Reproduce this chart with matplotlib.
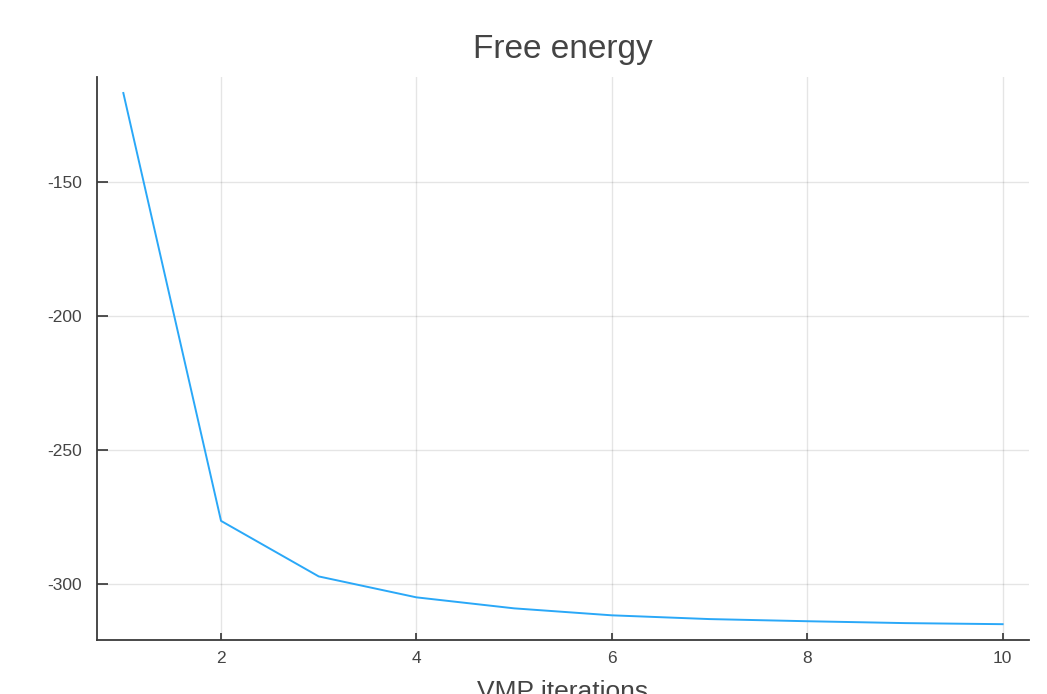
import matplotlib
matplotlib.use('Agg')
import matplotlib.pyplot as plt

plt.rcParams['font.family'] = ['Liberation Sans', 'DejaVu Sans']

# free energy per VMP iteration
iterations = [1, 2, 3, 4, 5, 6, 7, 8, 9, 10]
free_energy = [-116.9, -276.4, -297.1, -304.9, -309.0, -311.6, -313.0, -313.8, -314.5, -314.9]

xticks = [2, 4, 6, 8, 10]
yticks = [-300, -250, -200, -150]

fig = plt.figure(figsize=(10.47, 6.94), dpi=100)
ax = fig.add_axes([0.0926, 0.0778, 0.8902, 0.8112])

ax.plot(iterations, free_energy, color='#2AA8F8', linewidth=1.4)

ax.set_xlim(0.73, 10.27)
ax.set_ylim(-320.8, -110.95)
ax.set_xticks(xticks)
ax.set_yticks(yticks)
ax.set_xticklabels([str(t) for t in xticks])
ax.set_yticklabels([str(t) for t in yticks])

ax.grid(color='black', alpha=0.1, linewidth=1.0)
ax.set_axisbelow(True)

for side in ['top', 'right']:
    ax.spines[side].set_visible(False)
for side in ['left', 'bottom']:
    ax.spines[side].set_color('#3a3a3a')
    ax.spines[side].set_linewidth(1.3)

ax.tick_params(axis='x', direction='in', length=5, width=1.2, color='#333333',
               labelsize=12.5, labelcolor='#444444', pad=8)
ax.tick_params(axis='y', direction='in', length=8, width=1.2, color='#333333',
               labelsize=12.5, labelcolor='#444444', pad=11)

ax.set_title('Free energy', fontsize=24, color='#444444', pad=14)
ax.set_xlabel('VMP iterations', fontsize=19, color='#444444', labelpad=10)

fig.savefig('out.png', dpi=100)
